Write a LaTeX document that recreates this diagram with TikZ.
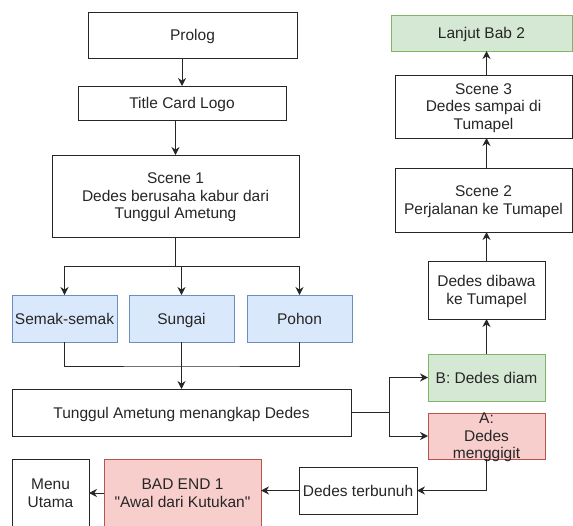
\documentclass[tikz,border=0pt]{standalone}
\usepackage{fontspec}
\setmainfont{Liberation Sans}
\usetikzlibrary{arrows.meta, positioning, calc}
\definecolor{locBlue}{HTML}{DAE8FC}
\definecolor{locBlueLine}{HTML}{6C8EBF}
\definecolor{goodGreen}{HTML}{D5E8D4}
\definecolor{goodGreenLine}{HTML}{82B366}
\definecolor{badRed}{HTML}{F8CECC}
\definecolor{badRedLine}{HTML}{B85450}

\begin{document}
\begin{tikzpicture}[
    node distance=28pt,
    box/.style={rectangle, draw=black!85, line width=1pt, fill=white, text=black!85, align=center, inner sep=0pt, outer sep=0pt, text depth=0pt, font=\fontsize{15.5}{17.5}\selectfont},
    loc/.style={box, fill=locBlue, draw=locBlueLine, minimum width=105pt, minimum height=47pt},
    goodbox/.style={box, fill=goodGreen, draw=goodGreenLine},
    badbox/.style={box, fill=badRed, draw=badRedLine},
    arrow/.style={-{Stealth[length=8pt, width=8pt]}, line width=1pt, draw=black!85},
    link/.style={line width=1pt, draw=black!85}
]
\useasboundingbox (0,0) rectangle (573pt,-525pt);

\node[box, minimum width=209pt, minimum height=46pt] (prolog) at (192.5pt,-35pt) {Prolog};
\node[box, minimum width=208pt, minimum height=34pt, below=28pt of prolog, xshift=-10.5pt] (title) {Title Card Logo};
\node[box, minimum width=247pt, minimum height=82pt, below=35pt of title, xshift=-6.5pt] (scene1) {Scene 1\\Dedes berusaha kabur dari\\Tunggul Ametung};

\node[loc, below=58pt of scene1, xshift=6pt] (sungai) {Sungai};
\node[loc, left=12pt of sungai] (semak) {Semak-semak};
\node[loc, right=13pt of sungai] (pohon) {Pohon};

\node[box, minimum width=339pt, minimum height=47pt, below=47pt of sungai] (tangkap) {Tunggul Ametung menangkap Dedes};

% Choices
\node[goodbox, minimum width=117pt, minimum height=47pt, above right=-12pt and 77pt of tangkap] (diam) {B: Dedes diam};
\node[badbox, minimum width=117pt, minimum height=46pt, inner ysep=-1pt, below=12pt of diam] (gigit) {A:\\Dedes\\menggigit};

\node[box, minimum width=117pt, minimum height=58pt, above=35pt of diam] (dibawa) {Dedes dibawa\\ke Tumapel};
\node[box, minimum width=177pt, minimum height=64pt, above=29pt of dibawa, xshift=-3pt] (scene2) {Scene 2\\Perjalanan ke Tumapel};
\node[box, minimum width=177pt, minimum height=63pt, above=30pt of scene2] (scene3) {Scene 3\\Dedes sampai di\\Tumapel};
\node[goodbox, minimum width=181pt, minimum height=36pt, above=24pt of scene3, xshift=-2pt] (lanjut) {Lanjut Bab 2};

\node[box, minimum width=118pt, minimum height=47pt, below left=8pt and 11pt of gigit] (terbunuh) {Dedes terbunuh};
\node[badbox, minimum width=157pt, minimum height=68pt, left=38pt of terbunuh, yshift=-2.5pt] (badend) {BAD END 1\\\textquotedbl Awal dari Kutukan\textquotedbl};
\node[box, minimum width=77pt, minimum height=68pt, left=15pt of badend] (menu) {Menu\\Utama};

\coordinate[below=29pt of scene1.south] (split);
\coordinate[below=24pt of sungai.south] (join);
\coordinate[right=38pt of tangkap.east] (fork);

\draw[arrow] (prolog.south -| title.north) -- (title.north);
\draw[arrow] (title.south -| scene1.north) -- (scene1.north);
\draw[arrow] (scene1.south) -- (split) -| (semak.north);
\draw[arrow] (split) -| (sungai.north);
\draw[arrow] (split) -| (pohon.north);
\draw[link] (semak.south) |- (join) -| (pohon.south);
\draw[arrow] (sungai.south) -- (tangkap.north);
\draw[link] (tangkap.east) -- (fork);
\draw[arrow] (fork) |- (diam.west);
\draw[arrow] (fork) |- (gigit.west);
\draw[arrow] (diam.north) -- (dibawa.south);
\draw[arrow] (dibawa.north) -- (dibawa.north |- scene2.south);
\draw[arrow] (scene2.north -| dibawa) -- (dibawa |- scene3.south);
\draw[arrow] (scene3.north -| dibawa) -- (dibawa |- lanjut.south);
\draw[arrow] (gigit.south) |- (terbunuh.east);
\draw[arrow] (terbunuh.west) -- (terbunuh.west -| badend.east);
\draw[arrow] (badend.west) -- (badend.west -| menu.east);

\end{tikzpicture}
\end{document}
